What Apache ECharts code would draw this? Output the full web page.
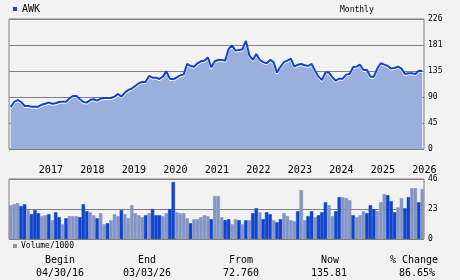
<!DOCTYPE html>
<html>
<head>
<meta charset="utf-8">
<script src="https://cdn.jsdelivr.net/npm/echarts@6/dist/echarts.min.js"></script>
<style>
html,body{margin:0;padding:0;background:#F2F2F2;}
#c{width:460px;height:280px;}
</style>
</head>
<body>
<div id="c"></div>
<script>
// ---- data ----
const startYear = 2016, startMonth = 4; // April 2016, monthly
const price = [72.8,81.7,85.2,81.7,74.8,74.8,73.6,73.6,73.6,77,
78.8,80.6,78.8,79.4,81.7,82.3,82.3,88,92.2,92.2,
86.4,81.7,80.6,85.2,86.4,84.1,87.5,88.7,88.7,88.7,
91,95.7,91,98,102.6,105,109.6,114.2,116.5,116.5,
127,124,124,121.7,125.8,135,122.3,121.2,124.7,128,
129.3,147.8,144.3,143,149,152.5,153.6,159,142,152.5,
154.8,154.8,153.6,174,180,171,172,173,188,162.9,
154.8,165,154.8,151,149,154.8,151,132.8,143,151,
153.6,157,143,146.6,147.8,145.5,144.3,147.8,136.2,125.8,
119.9,132.8,132.8,124.7,118.8,122.3,122.3,129.3,130.4,142,
143.2,146.6,137.4,137.4,125.8,125.8,139.7,149,146.6,144.3,
139.7,140.9,143.2,139.7,130.4,131.6,131.6,130.4,136,135.8];
const volume = [25.9,26.7,27.5,25.2,26.7,22.1,19.0,22.1,19.8,17.5,
18.2,19.0,14.4,20.5,16.7,11.3,15.9,17.5,17.5,17.5,
16.7,26.7,21.3,20.5,18.2,15.9,19.8,11.3,12.1,14.4,
19.0,17.5,22.1,19.0,15.9,25.9,19.8,18.2,16.7,18.2,
19.8,22.9,18.2,18.2,17.5,19.8,22.9,43.7,20.5,19.8,
19.8,15.9,12.1,15.2,15.2,16.7,18.2,17.5,15.2,32.9,
32.9,16.7,14.4,15.2,11.3,15.2,14.4,11.3,14.4,14.4,
19.8,23.6,20.5,15.2,20.5,19.0,14.4,12.8,15.2,19.8,
17.5,14.4,13.6,21.3,37.5,14.4,17.5,21.3,16.7,18.2,
20.5,28.2,25.9,17.5,21.3,32.1,32.1,31.3,29.8,18.2,
16.7,18.2,21.3,19.8,25.9,22.9,21.3,28.2,34.4,33.6,
29.0,20.5,24.4,31.3,23.6,32.1,39.0,39.0,28.2,38.3];
// 1 = dark bar, 0 = light bar
const volDark = [0,0,0,1,1,0,1,1,1,0,
0,1,0,1,1,0,1,0,0,0,
1,1,1,0,0,1,0,0,1,0,
0,0,1,0,0,0,0,0,0,1,
0,1,1,1,0,0,1,1,0,0,
0,0,1,0,0,0,0,0,1,0,
0,0,1,1,0,0,1,0,1,0,
1,1,0,1,1,1,0,1,1,0,
0,0,0,1,0,0,1,1,0,1,
1,1,0,0,1,1,0,0,0,1,
0,0,0,1,1,1,0,0,0,1,
1,1,0,0,1,1,0,0,1,0];
const priceTicks = ['0','45','90','135','181','226'];
const volTicks = ['0','23','46'];
const ticker = 'AWK';
const period = 'Monthly';
const volLabel = 'Volume/1000';
const summaryHeads = ['Begin','End','From','Now','% Change'];
const summaryVals = ['04/30/16','03/03/26','72.760','135.81','86.65%'];

// categories
const months = [];
for (let i = 0; i < price.length; i++) {
  const m0 = startMonth - 1 + i;
  const y = startYear + Math.floor(m0 / 12);
  const m = (m0 % 12) + 1;
  months.push(y + '-' + (m < 10 ? '0' : '') + m);
}

const DARK = '#1144CC', LIGHT = '#8596C4', GRIDC = '#808080';
const mono = 'DejaVu Sans Mono';

const chart = echarts.init(document.getElementById('c'), null, {renderer: 'canvas'});
const option = {
  animation: false,
  backgroundColor: '#F2F2F2',
  grid: [
    {left: 9, right: 36, top: 19, bottom: 131, show: true, borderColor: GRIDC, borderWidth: 1, backgroundColor: 'transparent'},
    {left: 9, right: 36, top: 179, bottom: 41, show: true, borderColor: GRIDC, borderWidth: 1, backgroundColor: 'transparent'}
  ],
  xAxis: [
    {type: 'category', gridIndex: 0, data: months, boundaryGap: true,
     axisLine: {show: false}, axisTick: {show: false}, splitLine: {show: false},
     axisLabel: {
       interval: (idx, val) => val.slice(5) === '01',
       formatter: (val) => val.slice(0, 4),
       align: 'left', margin: 16, color: '#000', fontFamily: mono, fontSize: 10, padding: [0,0,0,-3]
     }},
    {type: 'category', gridIndex: 1, data: months, boundaryGap: true,
     axisLine: {show: false}, axisTick: {show: false}, axisLabel: {show: false}, splitLine: {show: false}}
  ],
  yAxis: [
    {type: 'value', gridIndex: 0, min: 0, max: 226, interval: 45.2, position: 'right',
     axisLine: {show: false}, axisTick: {show: false},
     splitLine: {show: true, lineStyle: {color: GRIDC, width: 1}},
     axisLabel: {formatter: (v) => priceTicks[Math.round(v / 45.2)], color: '#000', fontFamily: mono, fontSize: 8, margin: 4, padding: [4,0,0,0]}},
    {type: 'value', gridIndex: 1, min: 0, max: 46, interval: 23, position: 'right',
     axisLine: {show: false}, axisTick: {show: false},
     splitLine: {show: true, lineStyle: {color: GRIDC, width: 1}},
     axisLabel: {formatter: (v) => volTicks[Math.round(v / 23)], color: '#000', fontFamily: mono, fontSize: 8, margin: 4, padding: [3,0,0,0]}}
  ],
  series: [
    {type: 'line', xAxisIndex: 0, yAxisIndex: 0, data: price, symbol: 'none',
     lineStyle: {color: DARK, width: 2, shadowColor: '#ffffff', shadowBlur: 0, shadowOffsetY: 1},
     areaStyle: {color: '#9BAFDC', opacity: 1}},
    {type: 'bar', xAxisIndex: 1, yAxisIndex: 1, barCategoryGap: '0%', barGap: '0%',
     data: volume.map((v, i) => {
       const c = volDark[i] ? DARK : LIGHT;
       return {value: v, itemStyle: {color: c, borderColor: c, borderWidth: 0.6}};
     })}
  ],
  graphic: [
    {type: 'rect', shape: {x: 13, y: 7, width: 4, height: 4}, style: {fill: DARK}},
    {type: 'text', x: 22, y: 9.5, style: {text: ticker, fill: '#000', font: '10px "DejaVu Sans Mono"', verticalAlign: 'middle'}},
    {type: 'text', x: 340, y: 9.5, style: {text: period, fill: '#000', font: '8px "DejaVu Sans Mono"', verticalAlign: 'middle'}},
    {type: 'rect', shape: {x: 13, y: 244, width: 4, height: 4}, style: {fill: LIGHT}},
    {type: 'text', x: 21, y: 246, style: {text: volLabel, fill: '#000', font: '8px "DejaVu Sans Mono"', verticalAlign: 'middle'}}
  ]
};
const headX = [60, 147, 241, 330, 414];
const valX = [60, 147, 241, 329, 417];
summaryHeads.forEach((t, i) => {
  option.graphic.push({type: 'text', x: headX[i], y: 260, style: {text: t, fill: '#000', font: '10px "DejaVu Sans Mono"', align: 'center', verticalAlign: 'middle'}});
});
summaryVals.forEach((t, i) => {
  option.graphic.push({type: 'text', x: valX[i], y: 273, style: {text: t, fill: '#000', font: '10px "DejaVu Sans Mono"', align: 'center', verticalAlign: 'middle'}});
});
chart.setOption(option);
</script>
</body>
</html>
